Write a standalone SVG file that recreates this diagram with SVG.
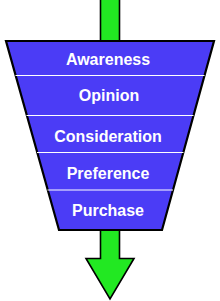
<svg xmlns="http://www.w3.org/2000/svg" width="220" height="301" viewBox="0 0 220 301">
<style>
.arrow{fill:#22e822;stroke:#000;stroke-width:1.6;stroke-linejoin:miter}
.funnel{fill:#4b3cf6;stroke:#000;stroke-width:2.2;stroke-linejoin:miter}
.div{stroke:#fff;stroke-width:1.2}
.lbl{font-family:"Liberation Sans",Arial,sans-serif;font-weight:bold;font-size:16px;fill:#fff;text-anchor:middle}
</style>
<g id="connectors">
<rect class="arrow" x="100.5" y="-3" width="19" height="44"/>
<polygon class="arrow" points="100.5,230 119.5,230 119.5,258.5 134,258.5 110,299 86,258.5 100.5,258.5"/>
</g>
<g id="funnel">
<polygon class="funnel" points="6,41 214,41 162,230 59,230"/>
<line class="div" x1="15.5" y1="75.5" x2="204.5" y2="75.5"/>
<line class="div" x1="26.5" y1="115.5" x2="193.5" y2="115.5"/>
<line class="div" x1="37" y1="152.5" x2="183.5" y2="152.5"/>
<line class="div" x1="47.5" y1="190" x2="173" y2="190"/>
</g>
<g id="awareness"><text class="lbl" x="108" y="65">Awareness</text></g>
<g id="opinion"><text class="lbl" x="109" y="101">Opinion</text></g>
<g id="consideration"><text class="lbl" x="108" y="142">Consideration</text></g>
<g id="preference"><text class="lbl" x="108" y="179">Preference</text></g>
<g id="purchase"><text class="lbl" x="108" y="216">Purchase</text></g>
</svg>
